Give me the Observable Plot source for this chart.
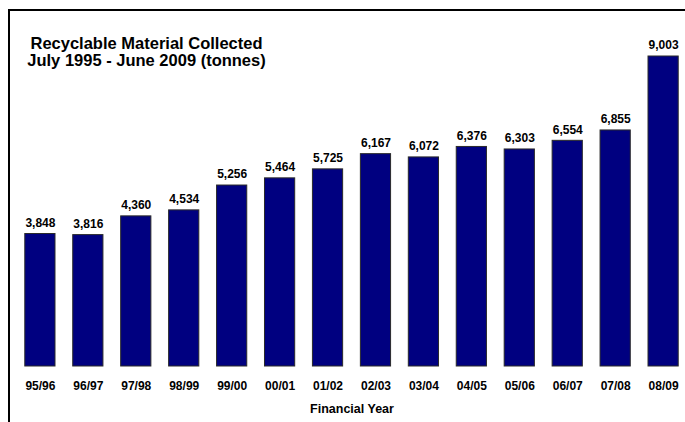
<!DOCTYPE html>
<html>
<head>
<meta charset="utf-8">
<script src="https://cdn.jsdelivr.net/npm/d3@7"></script>
<script src="https://cdn.jsdelivr.net/npm/@observablehq/plot@0.6"></script>
<style>
  html, body { margin: 0; padding: 0; background: #fff; }
  #wrap { position: relative; width: 685px; height: 422px; overflow: hidden; background: #fff;
          font-family: "Liberation Sans", Arial, sans-serif; }
  #frame { position: absolute; left: 8px; top: 9px; width: 720px; height: 480px;
           border: 2px solid #000; box-sizing: border-box; pointer-events: none; }
  .title { position: absolute; left: 6px; width: 281px; text-align: center;
           font-weight: bold; font-size: 16.5px; line-height: 16.5px; height: 16.5px; color: #000; white-space: nowrap; }
  #chart { position: absolute; left: 0; top: 0; }
</style>
</head>
<body>
<div id="wrap">
  <div id="chart"></div>
  <div id="frame"></div>
  <div class="title" style="top:35px">Recyclable Material Collected</div>
  <div class="title" style="top:51.5px">July 1995 - June 2009 (tonnes)</div>
</div>
<script>
const years = ["95/96","96/97","97/98","98/99","99/00","00/01","01/02","02/03","03/04","04/05","05/06","06/07","07/08","08/09"];
const tonnes = [3848, 3816, 4360, 4534, 5256, 5464, 5725, 6167, 6072, 6376, 6303, 6554, 6855, 9003];
const xTitle = "Financial Year";

const data = years.map((y, i) => ({year: y, value: tonnes[i]}));
const fmt = d3.format(",");

const chart = Plot.plot({
  width: 685,
  height: 422,
  marginLeft: 20,
  marginRight: 2,
  marginTop: 56,
  marginBottom: 56,
  style: {fontFamily: "'Liberation Sans', Arial, sans-serif", background: "transparent", color: "#000"},
  x: {domain: years, paddingInner: 0.37, paddingOuter: 0.1, round: false, label: null},
  y: {domain: [0, 9003], axis: null},
  marks: [
    Plot.barY(data, {x: "year", y: "value", fill: "#000080", stroke: "#2a2a2a", strokeWidth: 1}),
    Plot.text(data, {x: "year", y: "value", text: d => fmt(d.value), dy: -11,
      fontSize: 12, fontWeight: "bold", fill: "#000"}),
    Plot.axisX({tickSize: 0, tickPadding: 15, fontSize: 12, fontWeight: "bold", label: null, color: "#000"}),
    Plot.text([xTitle], {frameAnchor: "bottom", dy: 46, fontSize: 12.5, fontWeight: "bold", fill: "#000"})
  ]
});
document.getElementById("chart").appendChild(chart);
</script>
</body>
</html>
